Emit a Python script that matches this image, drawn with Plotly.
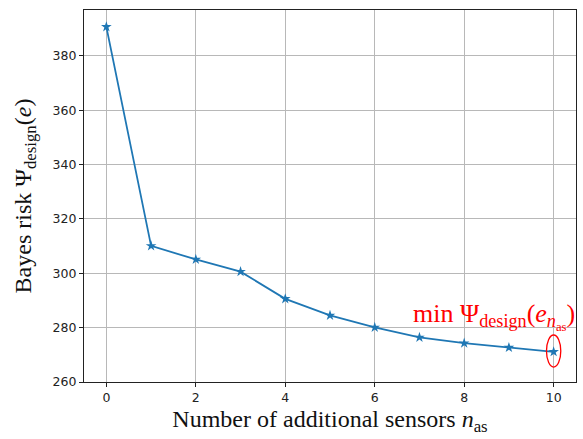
import plotly.graph_objects as go

n_as = [0, 1, 2, 3, 4, 5, 6, 7, 8, 9, 10]
risk = [390.7, 310.1, 305.1, 300.6, 290.6, 284.5, 280.1, 276.4, 274.3, 272.7, 271.1]
x_ticks = [0, 2, 4, 6, 8, 10]
y_ticks = [260, 280, 300, 320, 340, 360, 380]

fig = go.Figure()
fig.add_trace(go.Scatter(
    x=n_as, y=risk, mode="lines+markers",
    line=dict(color="#1f77b4", width=1.8),
    marker=dict(symbol="star", size=8, color="#1f77b4"),
    showlegend=False,
))

xm, ym = n_as[-1], risk[-1]
fig.add_shape(type="circle", xref="x", yref="y",
              x0=xm - 0.16, x1=xm + 0.16, y0=ym - 5.6, y1=ym + 6.2,
              line=dict(color="red", width=1.3))
fig.add_annotation(x=8.66, y=284.2, xref="x", yref="y",
                   text="min Ψ<sub>design</sub>(<i>e</i><sub><i>n</i><sub>as</sub></sub>)",
                   showarrow=False,
                   font=dict(family="Liberation Serif", size=26, color="red"))

axis_common = dict(showline=True, linecolor="#222", linewidth=1.2, mirror=True,
                   showgrid=True, gridcolor="#b8b8b8", gridwidth=1,
                   ticks="outside", ticklen=4, tickcolor="#222",
                   tickfont=dict(family="DejaVu Sans", size=12.5, color="#222"),
                   zeroline=False, automargin=False)

fig.update_xaxes(range=[-0.5, 10.5], tickvals=x_ticks,
                 title=dict(text="Number of additional sensors <i>n</i><sub>as</sub>",
                            font=dict(family="Liberation Serif", size=24, color="#111"),
                            standoff=6),
                 **axis_common)
fig.update_yaxes(range=[260, 396.9], tickvals=y_ticks,
                 title=dict(text="Bayes risk Ψ<sub>design</sub>(<i>e</i>)",
                            font=dict(family="Liberation Serif", size=24, color="#111"),
                            standoff=14),
                 **axis_common)

fig.update_layout(width=583, height=439, margin=dict(l=84, r=7, t=10, b=57),
                  plot_bgcolor="white", paper_bgcolor="white")
fig.write_html("out.html", config={"displayModeBar": False},
               post_script="document.body.style.margin='0';document.body.style.overflow='hidden';")
